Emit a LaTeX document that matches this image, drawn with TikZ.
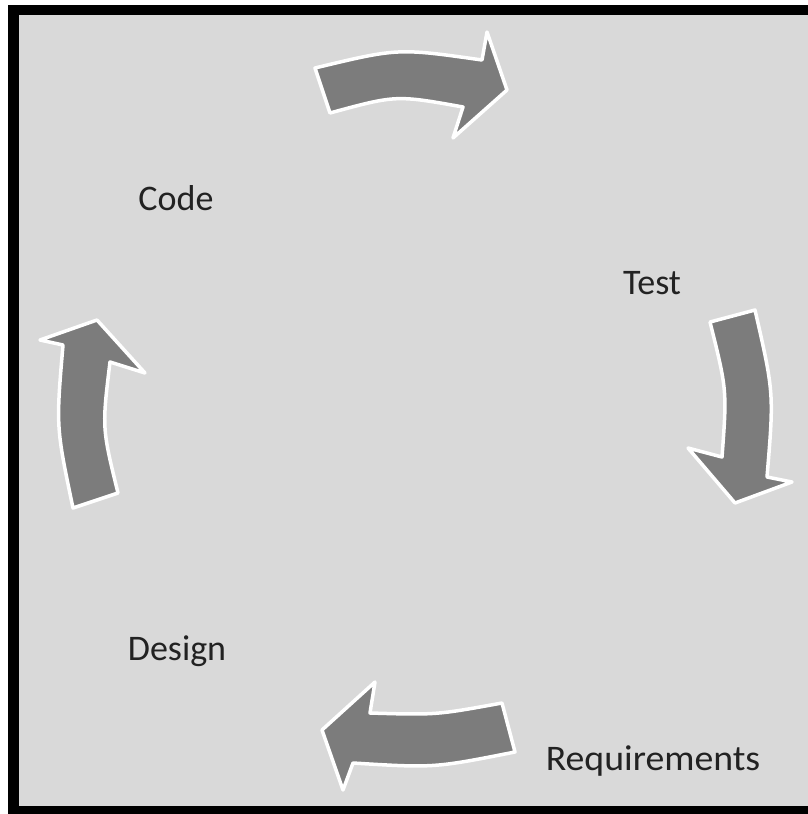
\documentclass[tikz,border=0pt]{standalone}
\usepackage{fontspec}
\setmainfont{Carlito}
\definecolor{bggray}{HTML}{D9D9D9}
\definecolor{arrowgray}{HTML}{7C7C7C}
\definecolor{txt}{HTML}{222222}
\begin{document}
\begin{tikzpicture}[x=1pt,y=-1pt,
  cyclearrow/.style={fill=arrowgray,draw=white,line width=3.5pt,line join=round},
  label/.style={anchor=base,text=txt,font=\fontsize{36}{40}\selectfont,inner sep=0pt}]
\useasboundingbox (0,0) rectangle (808,814);
\fill[white] (0,0) rectangle (808,814);
\fill[black] (8,5) rectangle (808,814);
\fill[bggray] (19,15) rectangle (808,806);
% top arrow
\draw[cyclearrow] (315,68) .. controls (398,48) .. (482,60) -- (487,32) -- (507,90) -- (453,138) -- (463,107) .. controls (396,95) .. (330,113) -- cycle;
% right arrow
\draw[cyclearrow] (755,310) .. controls (774,393) .. (767,477) -- (792,482) -- (735,503) -- (688,448) -- (722,457) .. controls (727,390) .. (710,322) -- cycle;
% bottom arrow
\draw[cyclearrow] (502,703) .. controls (436,715) .. (370,713) -- (375,682) -- (322,730) -- (343,790) -- (353,763) .. controls (434,768) .. (515,752) -- cycle;
% left arrow
\draw[cyclearrow] (73,508) .. controls (56,427) .. (63,345) -- (40,340) -- (97,320) -- (145,373) -- (110,362) .. controls (102,428) .. (118,493) -- cycle;
\node[label] (code) at (176,210) {Code};
\node[label] (test) at (652,294) {Test};
\node[label] (design) at (177,660) {Design};
\node[label,xscale=1.05] (req) at (653,770) {Requirements};
\end{tikzpicture}
\end{document}
